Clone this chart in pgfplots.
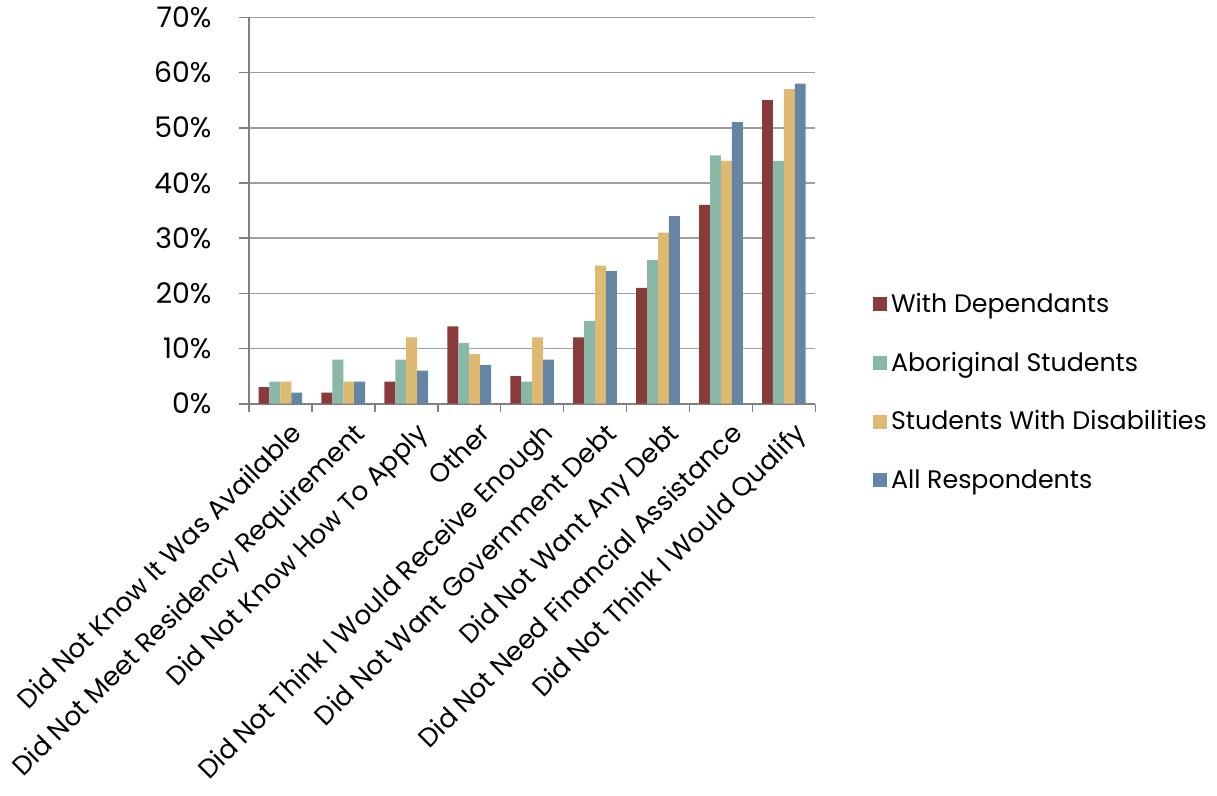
\documentclass[border=0pt]{standalone}
\usepackage{pgfplots}
\pgfplotsset{compat=1.18}
\usepackage{pgfplotstable}
\usepackage{fontspec}
\setmainfont{Poppins}
\definecolor{cA}{HTML}{893B3B}
\definecolor{cB}{HTML}{8AB8A6}
\definecolor{cC}{HTML}{DDB972}
\definecolor{cD}{HTML}{6585A5}
\pgfplotstableread{
x c1 c2 c3 c4
0 3 4 4 2
1 2 8 4 4
2 4 8 12 6
3 14 11 9 7
4 5 4 12 8
5 12 15 25 24
6 21 26 31 34
7 36 45 44 51
8 55 44 57 58
}\datatable
\newcommand\fs{\fontsize{12.5}{14}\selectfont}
\begin{document}
\begin{tikzpicture}
\begin{axis}[
  scale only axis, width=280pt, height=191pt,
  ybar=0pt, bar width=5.4pt,
  xmin=-0.5, xmax=8.5, ymin=0, ymax=70,
  xtick={0,...,8},
  xticklabels={Did Not Know It Was Available, Did Not Meet Residency Requirement, Did Not Know How To Apply, Other, Did Not Think I Would Receive Enough, Did Not Want Government Debt, Did Not Want Any Debt, Did Not Need Financial Assistance, Did Not Think I Would Qualify},
  major x tick style={draw=none},
  minor xtick={-0.5,0.5,...,8.5},
  minor x tick style={draw=gray, line width=0.8pt},
  minor tick length=4pt,
  major tick length=5pt,
  tick align=outside,
  xticklabel style={rotate=45, anchor=north east, font=\fontsize{13}{15}\selectfont, xshift=4pt, yshift=-2pt},
  ytick={0,10,...,70},
  yticklabel={\pgfmathprintnumber{\tick}\%},
  yticklabel style={font=\fontsize{14}{16}\selectfont, xshift=-10pt},
  /pgf/number format/assume math mode=true,
  ymajorgrids, grid style={draw=gray!75, line width=0.8pt},
  axis x line*=bottom, axis y line*=left,
  axis line style={draw=gray, line width=0.8pt},
  y tick style={draw=gray, line width=0.8pt},
  legend style={at={(1.09,0.03)}, anchor=west, draw=none, fill=none, row sep=14pt, font=\fs},
  legend cell align=left,
  legend image code/.code={\fill[#1] (0pt,-3.5pt) rectangle (7pt,3.5pt);},
]
\addplot[fill=cA, draw=none] table[x=x,y=c1]{\datatable};
\addplot[fill=cB, draw=none] table[x=x,y=c2]{\datatable};
\addplot[fill=cC, draw=none] table[x=x,y=c3]{\datatable};
\addplot[fill=cD, draw=none] table[x=x,y=c4]{\datatable};
\legend{With Dependants, Aboriginal Students, Students With Disabilities, All Respondents}
\end{axis}
\end{tikzpicture}
\end{document}
